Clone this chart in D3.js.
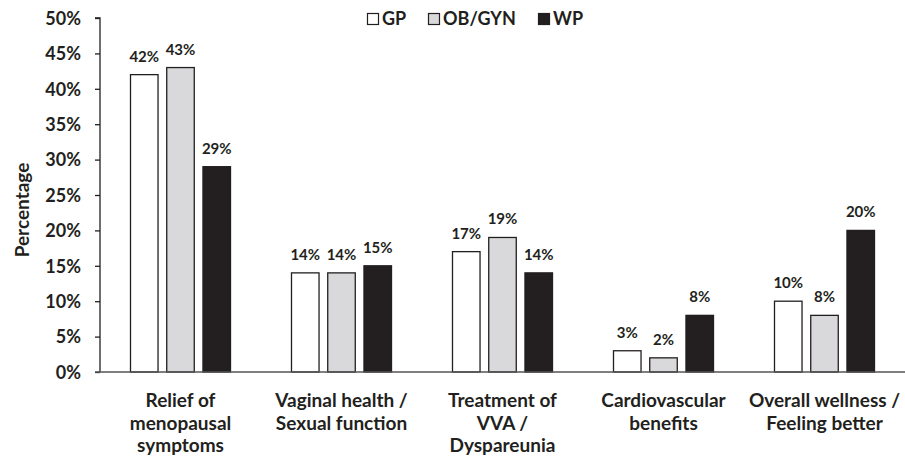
<!DOCTYPE html>
<meta charset="utf-8">
<head>
    <script src="https://d3js.org/d3.v7.min.js"></script>
    <style>
        body { margin: 0; background: white; }
        text { font-family: Lato, "Open Sans", sans-serif; font-weight: bold; fill: #231f20; }
    </style>
</head>
<body>
<div id="chart"></div>
<script>
    // categories (lines of each label)
    const categories = [
        ["Relief of", "menopausal", "symptoms"],
        ["Vaginal health /", "Sexual function"],
        ["Treatment of", "VVA /", "Dyspareunia"],
        ["Cardiovascular", "benefits"],
        ["Overall wellness /", "Feeling better"]
    ];
    const seriesNames = ["GP", "OB/GYN", "WP"];
    const gpValues = [42, 14, 17, 3, 10];
    const obgynValues = [43, 14, 19, 2, 8];
    const wpValues = [29, 15, 14, 8, 20];
    const yTicks = [0, 5, 10, 15, 20, 25, 30, 35, 40, 45, 50];

    const colors = { "GP": "#ffffff", "OB/GYN": "#d9d9db", "WP": "#231f20" };
    const seriesValues = { "GP": gpValues, "OB/GYN": obgynValues, "WP": wpValues };

    const width = 905, height = 457;
    const margin = { left: 100, right: 0, top: 18, bottom: 85 };

    const svg = d3.select("#chart").append("svg")
        .attr("width", width)
        .attr("height", height);

    const x = d3.scaleBand()
        .domain(d3.range(categories.length))
        .range([margin.left, width - margin.right]);

    const xInner = d3.scaleBand()
        .domain(seriesNames)
        .range([-50, 50])
        .paddingInner(0.24)
        .paddingOuter(0);

    const y = d3.scaleLinear()
        .domain([0, 50])
        .range([height - margin.bottom, margin.top]);

    // y axis
    const leftAxis = d3.axisLeft(y)
        .tickValues(yTicks)
        .tickFormat(d => d + "%")
        .tickSize(5)
        .tickPadding(14);

    const yg = svg.append("g")
        .attr("transform", `translate(${margin.left}, 0)`)
        .call(leftAxis);
    yg.select(".domain").attr("stroke", "#231f20").attr("stroke-width", 1.3).attr("d", `M-5,${y(50)}H0V${y(0)}`);
    yg.selectAll(".tick line").attr("stroke", "#231f20").attr("stroke-width", 1.3);
    yg.selectAll(".tick text").style("font-size", "18px").attr("dy", "0.35em");

    svg.append("text")
        .attr("transform", `translate(29, 210) rotate(-90)`)
        .attr("text-anchor", "middle")
        .style("font-size", "19px")
        .text("Percentage");

    // bars
    const groups = svg.selectAll(".group")
        .data(categories)
        .enter()
        .append("g")
        .attr("transform", (d, i) => `translate(${x(i) + x.bandwidth() / 2}, 0)`);

    seriesNames.forEach(s => {
        groups.append("rect")
            .attr("x", xInner(s))
            .attr("width", xInner.bandwidth())
            .attr("y", (d, i) => y(seriesValues[s][i]))
            .attr("height", (d, i) => y(0) - y(seriesValues[s][i]))
            .attr("fill", colors[s])
            .attr("stroke", "#231f20")
            .attr("stroke-width", 1.3);

        groups.append("text")
            .attr("x", xInner(s) + xInner.bandwidth() / 2)
            .attr("y", (d, i) => y(seriesValues[s][i]) - 13)
            .attr("text-anchor", "middle")
            .style("font-size", "15px")
            .text((d, i) => seriesValues[s][i] + "%");
    });

    // x axis line
    svg.append("line")
        .attr("x1", margin.left - 5)
        .attr("x2", width)
        .attr("y1", y(0))
        .attr("y2", y(0))
        .attr("stroke", "#555")
        .attr("stroke-width", 1.5);

    // category labels
    groups.append("text")
        .attr("text-anchor", "middle")
        .style("font-size", "19px")
        .selectAll("tspan")
        .data(d => d)
        .enter()
        .append("tspan")
        .attr("x", 0)
        .attr("y", (d, i) => y(0) + 35 + i * 22.5)
        .text(d => d);

    // legend
    const legendX = [367, 428, 538];
    const legend = svg.append("g");
    seriesNames.forEach((s, i) => {
        legend.append("rect")
            .attr("x", legendX[i] + 0.5)
            .attr("y", 13.5)
            .attr("width", 11)
            .attr("height", 11)
            .attr("fill", colors[s])
            .attr("stroke", "#231f20")
            .attr("stroke-width", 1.2);
        legend.append("text")
            .attr("x", legendX[i] + 15)
            .attr("y", 25)
            .style("font-size", "18px")
            .text(s);
    });
</script>
</body>
